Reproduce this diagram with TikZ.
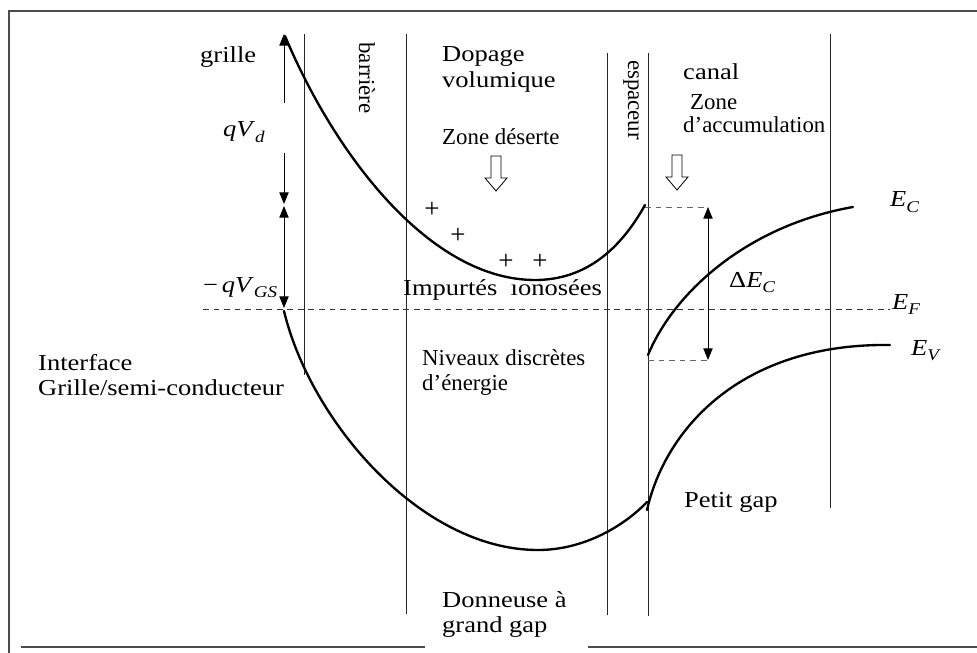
\documentclass[tikz,border=0pt]{standalone}
\usepackage{fontspec}
\setmainfont{Liberation Serif}
\newfontfamily\widefont{Liberation Serif}[FakeStretch=1.16]
\usetikzlibrary{arrows.meta}
\newcommand\bandsub[2]{\textit{#1}\raisebox{-0.25em}{\fontsize{14}{14}\selectfont\textit{#2}}}
\tikzset{
  frameline/.style={draw=black!70, line width=1.2pt},
  layer/.style={draw=black!85, line width=0.7pt},
  band/.style={draw=black, line width=2pt, line cap=round},
  fermi/.style={draw=black!80, line width=0.7pt, dash pattern=on 5pt off 4pt},
  level/.style={draw=black!60, line width=0.7pt, dash pattern=on 5pt off 4pt},
  dimarrow/.style={line width=0.8pt, -{Triangle[length=10pt,width=8pt]}},
  dimboth/.style={line width=0.8pt, {Triangle[length=10pt,width=8pt]}-{Triangle[length=10pt,width=8pt]}},
  txtwide/.style={font=\widefont\fontsize{19.5}{22}\selectfont, inner sep=0pt, anchor=base west},
  txtplain/.style={font=\fontsize{19.5}{22}\selectfont, inner sep=0pt, anchor=base west},
  sidetext/.style={font=\fontsize{19.5}{22}\selectfont, inner sep=0pt, rotate=-90},
  ionplus/.style={font=\fontsize{23}{23}\selectfont, inner sep=0pt},
  hollowdown/.pic={
    \draw[line width=0.7pt] (-5,0) -- (5,0) -- (5,22) -- (11,22) -- (0,35)
      -- (-11,22) -- (-5,22) -- cycle;
  },
}

\begin{document}
\begin{tikzpicture}[x={(0.03cm,0)}, y={(0,-0.03cm)}]
  \useasboundingbox (0,0) rectangle (977,653);

  % cadre
  \draw[frameline] (977,11) -- (9,11) -- (9,653);
  \draw[frameline] (21,647) -- (425,647);
  \draw[frameline] (588,647) -- (977,647);

  % couches
  \draw[layer] (304,34) -- (304,375);
  \draw[layer] (406,34) -- (406,614);
  \draw[layer] (607,53) -- (607,615);
  \draw[layer] (648,53) -- (648,616);
  \draw[layer] (830,34) -- (830,508);

  % niveau de Fermi
  \coordinate (fl) at (203,309);
  \coordinate (fr) at (890,309);
  \draw[fermi] (fl) -- (fr);

  % bandes
  \draw[band] (285,36) .. controls (335,155) and (430,280) .. (535,280)
    .. controls (585,280) and (620,250) .. (645,205);
  \draw[band] (284,311) .. controls (310,420) and (420,550) .. (538,550)
    .. controls (585,550) and (625,525) .. (647,502);
  \draw[band] (647,510) .. controls (665,430) and (740,343) .. (890,345);
  \draw[band] (648,355) .. controls (675,290) and (750,225) .. (853,207);

  % tensions
  \coordinate (gtop) at (284,34);
  \coordinate (gmid) at (284,103);
  \coordinate (vdtop) at (284,153);
  \coordinate (vdbot) at (284,204);
  \coordinate (gstop) at (284,206);
  \coordinate (gsbot) at (284,308);
  \draw[dimarrow] (gmid) -- (gtop);
  \draw[dimarrow] (vdtop) -- (vdbot);
  \draw[dimboth] (gstop) -- (gsbot);

  % discontinuite
  \coordinate (ectop) at (645,207);
  \coordinate (ecbot) at (648,360);
  \coordinate (dtop) at (708,207);
  \coordinate (dbot) at (708,360);
  \draw[level] (ectop) -- (dtop);
  \draw[level] (ecbot) -- (dbot);
  \draw[dimboth] (dtop) -- (dbot);

  % fleches creuses
  \pic at (496,156) {hollowdown};
  \pic at (677,155) {hollowdown};

  % impuretes
  \node[ionplus] (p1) at (432,210) {+};
  \node[ionplus] (p2) at (458,236) {+};
  \node[ionplus] (p3) at (506,262) {+};
  \node[ionplus] (p4) at (540,262) {+};

  % textes
  \node[txtwide] (grille) at (200,63) {grille};
  \node[txtwide] (vd) at (223,137) {\bandsub{qV}{d}};
  \node[txtwide] (vgs) at (203,292) {−\,\bandsub{qV}{GS}};
  \node[sidetext] (barriere) at (367,78) {barrière};
  \node[sidetext] (espaceur) at (631,100) {espaceur};
  \node[txtwide] (dop1) at (442,62) {Dopage};
  \node[txtwide] (dop2) at (442,88) {volumique};
  \node[txtplain] (zdes) at (442,145) {Zone déserte};
  \node[txtwide] (canal) at (683,80) {canal};
  \node[txtplain] (zacc1) at (690,110) {Zone};
  \node[txtplain] (zacc2) at (683,133) {d’accumulation};
  \node[txtwide] (imp) at (403,295) {Impurtés\ \ ıonosées};
  \node[txtwide] (int1) at (38,370) {Interface};
  \node[txtwide] (int2) at (38,395) {Grille/semi-conducteur};
  \node[txtplain] (niv1) at (422,365) {Niveaux discrètes};
  \node[txtplain] (niv2) at (422,390) {d’énergie};
  \node[txtwide] (petit) at (684,507) {Petit gap};
  \node[txtwide] (don1) at (442,607) {Donneuse à};
  \node[txtwide] (don2) at (442,632) {grand gap};
  \node[txtwide] (ec) at (890,207) {\bandsub{E}{C}};
  \node[txtwide] (ef) at (892,309) {\bandsub{E}{F}};
  \node[txtwide] (ev) at (911,355) {\bandsub{E}{V}};
  \node[txtwide] (dec) at (729,287) {Δ\bandsub{E}{C}};
\end{tikzpicture}
\end{document}
